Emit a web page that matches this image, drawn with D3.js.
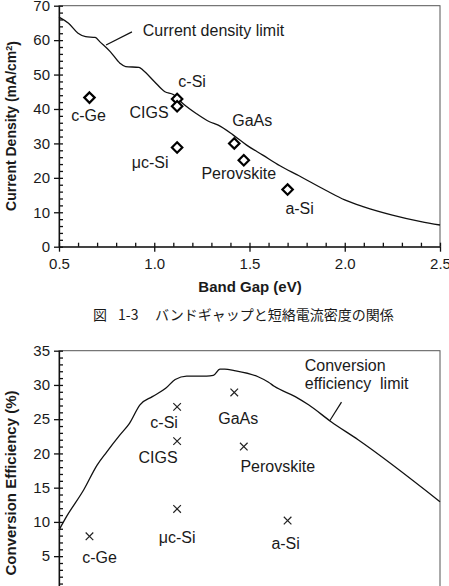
<!DOCTYPE html>
<meta charset="utf-8">
<style type="text/css">
  body {
    margin: 0;
    background: #fff;
  }

  svg text {
    font-family: "Liberation Sans", Arial, sans-serif;
    fill: #1a1a1a;
  }

  .curve {
    fill: none;
    stroke: #111;
    stroke-width: 1.3;
  }

  .frame {
    fill: none;
    stroke: #555;
    stroke-width: 1;
  }

  .axis path,
  .axis line {
    stroke: #111;
    stroke-width: 1.3;
  }

  .axis text {
    font-size: 15px;
  }

  .title {
    font-size: 14px;
    font-weight: bold;
  }

  .label {
    font-size: 16px;
  }
</style>

<body>
</body>
<script src="https://d3js.org/d3.v7.min.js"></script>
<script>
  // Two panels sharing the band gap axis: Jsc (top) and efficiency (bottom)

  // materials and their measured points
  var materials = ["c-Ge", "c-Si", "CIGS", "\u03bcc-Si", "GaAs", "Perovskite", "a-Si"];
  var bandGap = [0.66, 1.12, 1.12, 1.12, 1.42, 1.47, 1.70];
  var currentDensity = [43.3, 42.9, 40.8, 28.8, 30.0, 25.1, 16.6];
  var efficiency = [7.9, 26.8, 21.8, 11.9, 28.9, 21.0, 10.2];

  // theoretical limit curves
  var jscLimitGap = [0.50, 0.55, 0.60, 0.64, 0.69, 0.715, 0.77, 0.82, 0.85, 0.92, 0.94, 1.00, 1.056, 1.10,
    1.15, 1.22, 1.29, 1.336, 1.415, 1.485, 1.57, 1.66, 1.76, 1.90, 2.00, 2.10, 2.25, 2.40, 2.50];
  var jscLimit = [66.7, 64.9, 62.0, 61.0, 60.8, 59.5, 56.6, 53.3, 52.3, 52.1, 51.3, 48.0, 45.0, 44.2,
    41.6, 38.7, 36.3, 35.3, 32.4, 29.5, 26.6, 23.5, 20.6, 16.4, 13.6, 11.6, 9.2, 7.3, 6.3];

  var effLimitGap = [0.50, 0.54, 0.63, 0.70, 0.75, 0.82, 0.87, 0.925, 0.99, 1.06, 1.11, 1.17, 1.275, 1.31,
    1.345, 1.37, 1.42, 1.545, 1.60, 1.63, 1.74, 1.81, 1.93, 2.07, 2.50];
  var effLimit = [8.8, 10.8, 14.7, 18.3, 20.2, 22.7, 24.4, 27.1, 28.3, 29.5, 30.8, 31.3, 31.3, 31.4,
    32.3, 32.3, 32.1, 31.2, 30.4, 29.8, 28.3, 27.1, 24.6, 22.0, 12.95];

  // tick values
  var xTicks = [0.5, 1.0, 1.5, 2.0, 2.5];
  var jscTicks = [0, 10, 20, 30, 40, 50, 60, 70];
  var effTicks = [0, 5, 10, 15, 20, 25, 30, 35];

  // label offsets (px) from each marker, per panel
  var jscLabelOffset = [[-1, 18], [15, -18], [-28, 6], [-27, 15], [18, -23], [-5, 13], [12, 19]];
  var effLabelOffset = [[10, 21], [-13, 16], [-19, 16], [0, 29], [4, 26], [34, 20], [-2, 23]];

  var width = 449,
    height = 586;

  var svg = d3.select("body").append("svg")
    .attr("width", width)
    .attr("height", height);

  var x = d3.scaleLinear()
    .domain([0.5, 2.5])
    .range([59, 440]);

  var yTop = d3.scaleLinear()
    .domain([0, 70])
    .range([246.7, 5.7]);

  var yBot = d3.scaleLinear()
    .domain([0, 35])
    .range([590.4, 350.7]);

  function drawPanel(y, yTicks, yMinorStep, values, limitGap, limitVals, marker, offsets, title, titleY, titleSize) {
    var x0 = x.range()[0],
      x1 = x.range()[1],
      yb = y.range()[0],
      yt = y.range()[1];

    var g = svg.append("g");

    g.append("rect")
      .attr("class", "frame")
      .attr("x", x0)
      .attr("y", yt)
      .attr("width", x1 - x0)
      .attr("height", yb - yt);

    // minor ticks point inside the plot
    g.append("g")
      .attr("class", "axis")
      .attr("transform", "translate(" + x0 + ",0)")
      .call(d3.axisRight(y).tickValues(d3.range(0, y.domain()[1] + 0.01, yMinorStep)).tickSize(4).tickFormat(""))
      .select(".domain").remove();

    g.append("g")
      .attr("class", "axis")
      .attr("transform", "translate(0," + yb + ")")
      .call(d3.axisTop(x).tickValues(d3.range(0.5, 2.51, 0.1)).tickSize(4).tickFormat(""))
      .select(".domain").remove();

    // major axes
    g.append("g")
      .attr("class", "axis")
      .attr("transform", "translate(" + x0 + ",0)")
      .call(d3.axisLeft(y).tickValues(yTicks).tickSize(5).tickPadding(4).tickSizeOuter(0));

    g.append("g")
      .attr("class", "axis")
      .attr("transform", "translate(0," + yb + ")")
      .call(d3.axisBottom(x).tickValues(xTicks).tickSize(5).tickPadding(6.5).tickSizeOuter(0)
        .tickFormat(d3.format(".1f")));

    // limit curve
    var line = d3.line()
      .x(function(d) { return x(d[0]); })
      .y(function(d) { return y(d[1]); })
      .curve(d3.curveMonotoneX);

    g.append("path")
      .attr("class", "curve")
      .datum(d3.zip(limitGap, limitVals))
      .attr("d", line);

    // markers
    var pts = g.selectAll(".pt")
      .data(d3.zip(bandGap, values))
      .enter().append("g")
      .attr("class", "pt")
      .attr("transform", function(d) { return "translate(" + x(d[0]) + "," + y(d[1]) + ")"; });

    if (marker === "diamond") {
      pts.append("path")
        .attr("d", "M0,-5.2L5.2,0L0,5.2L-5.2,0Z")
        .attr("fill", "#fff")
        .attr("stroke", "#000")
        .attr("stroke-width", 2.2);
    } else {
      pts.append("path")
        .attr("d", "M-3.8,-3.8L3.8,3.8M-3.8,3.8L3.8,-3.8")
        .attr("stroke", "#222")
        .attr("stroke-width", 1.2);
    }

    pts.append("text")
      .attr("class", "label")
      .attr("x", function(d, i) { return offsets[i][0]; })
      .attr("y", function(d, i) { return offsets[i][1]; })
      .attr("dy", "0.35em")
      .attr("text-anchor", "middle")
      .text(function(d, i) { return materials[i]; });

    // y axis title
    g.append("text")
      .attr("class", "title")
      .style("font-size", titleSize + "px")
      .attr("transform", "translate(11," + titleY + ") rotate(-90)")
      .attr("dy", "0.35em")
      .attr("text-anchor", "middle")
      .text(title);

    return g;
  }

  var topPanel = drawPanel(yTop, jscTicks, 2, currentDensity, jscLimitGap, jscLimit, "diamond", jscLabelOffset,
    "", 126, 14);

  // y title with superscript
  var t = topPanel.select(".title");
  t.append("tspan").text("Current Density (mA/cm");
  t.append("tspan").attr("dy", "-0.45em").style("font-size", "9px").text("2");
  t.append("tspan").attr("dy", "0.45em").text(")");

  topPanel.append("text")
    .attr("class", "title")
    .style("font-size", "15px")
    .attr("x", 250)
    .attr("y", 292)
    .attr("text-anchor", "middle")
    .text("Band Gap (eV)");

  // figure caption
  var cap = svg.append("text")
    .attr("y", 320)
    .style("font-family", "'Noto Sans CJK JP', sans-serif")
    .style("font-size", "14px");
  cap.append("tspan").attr("x", 93).text("\u56f3");
  cap.append("tspan").attr("x", 118).text("1-3");
  cap.append("tspan").attr("x", 155).text("\u30d0\u30f3\u30c9\u30ae\u30e3\u30c3\u30d7\u3068\u77ed\u7d61\u96fb\u6d41\u5bc6\u5ea6\u306e\u95a2\u4fc2");

  // annotation: current density limit
  topPanel.append("line")
    .attr("x1", x(0.747)).attr("y1", yTop(58.6))
    .attr("x2", x(0.883)).attr("y2", yTop(62.4))
    .attr("stroke", "#111").attr("stroke-width", 1.2);
  topPanel.append("text")
    .attr("class", "label")
    .attr("x", x(0.94))
    .attr("y", yTop(61.3))
    .text("Current density limit");

  var botPanel = drawPanel(yBot, effTicks, 1, efficiency, effLimitGap, effLimit, "cross", effLabelOffset,
    "Conversion Efficiency (%)", 483, 15);

  // annotation: conversion efficiency limit
  botPanel.append("line")
    .attr("x1", x(1.983)).attr("y1", yBot(27.5))
    .attr("x2", x(1.922)).attr("y2", yBot(24.8))
    .attr("stroke", "#111").attr("stroke-width", 1.2);
  var ann = botPanel.append("text")
    .attr("class", "label")
    .attr("y", yBot(32.1));
  ann.append("tspan").attr("x", x(1.79)).text("Conversion");
  ann.append("tspan").attr("x", x(1.79)).attr("dy", "1.15em").text("efficiency\u00a0 limit");
</script>
